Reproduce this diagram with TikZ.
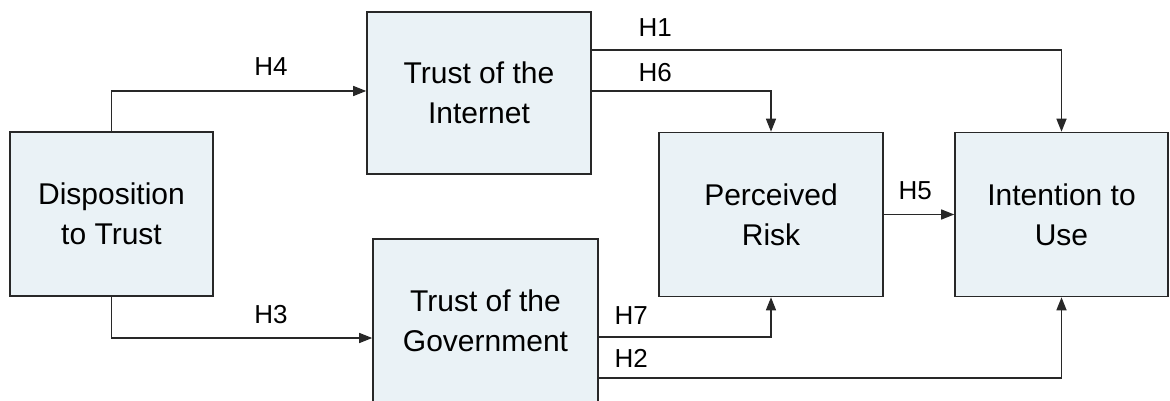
\documentclass[tikz,border=0pt]{standalone}
\usepackage{fontspec}
\setmainfont{Liberation Sans}
\usetikzlibrary{positioning}
\usetikzlibrary{arrows.meta}
\definecolor{boxfill}{RGB}{234,242,246}
\definecolor{boxline}{RGB}{40,40,40}
\tikzset{
	construct/.style={draw=boxline,line width=1.6pt,fill=boxfill,minimum height=164pt,inner sep=0pt,align=center,font=\fontsize{30}{40}\selectfont},
	link/.style={draw=boxline,line width=1.5pt,-{Triangle[length=13pt,width=10pt]}},
	hyp/.style={anchor=base west,inner sep=0pt,font=\fontsize{26}{28}\selectfont},
}

\begin{document}
\begin{tikzpicture}[x=1pt,y=-1pt]
			\useasboundingbox (0,0) rectangle (1170,401);
			
			% constructs...................
			\node [construct,minimum width=203pt] (disp) at (111.5,214) {Disposition\\to Trust};
			\node [construct,minimum width=224pt,minimum height=162pt] (inet) at (479,93) {Trust of the\\Internet};
			\node [construct,minimum width=225pt] (gov) at (485.5,321) {Trust of the\\Government};
			\node [construct,minimum width=224pt] (risk) at (771,214.5) {Perceived\\Risk};
			\node [construct,minimum width=213pt] (intent) at (1061.5,214.5) {Intention to\\Use};
			
			% H3, H4 from disposition......
			\draw [link] (disp.north) |- ([yshift=2pt]inet.west) node [hyp,pos=0.5,xshift=142pt,yshift=15pt] {H4};
			\draw [link] (disp.south) |- ([yshift=-17pt]gov.west) node [hyp,pos=0.5,xshift=142pt,yshift=15pt] {H3};
			
			% H1, H6 from internet.........
			\draw [link] ([yshift=43pt]inet.east) -| (intent.north) node [hyp,pos=0,xshift=46pt,yshift=13pt] {H1};
			\draw [link] ([yshift=2pt]inet.east) -| (risk.north) node [hyp,pos=0,xshift=46pt,yshift=9pt] {H6};
			
			% H7, H2 from government.......
			\draw [link] ([yshift=-16pt]gov.east) -| (risk.south) node [hyp,pos=0,xshift=15pt,yshift=13pt] {H7};
			\draw [link] ([yshift=-57pt]gov.east) -| (intent.south) node [hyp,pos=0,xshift=15pt,yshift=11pt] {H2};
			
			% H5 risk to intention.........
			\draw [link] (risk.east) -- (intent.west) node [hyp,pos=0,xshift=14pt,yshift=15pt] {H5};
			
\end{tikzpicture}
\end{document}
